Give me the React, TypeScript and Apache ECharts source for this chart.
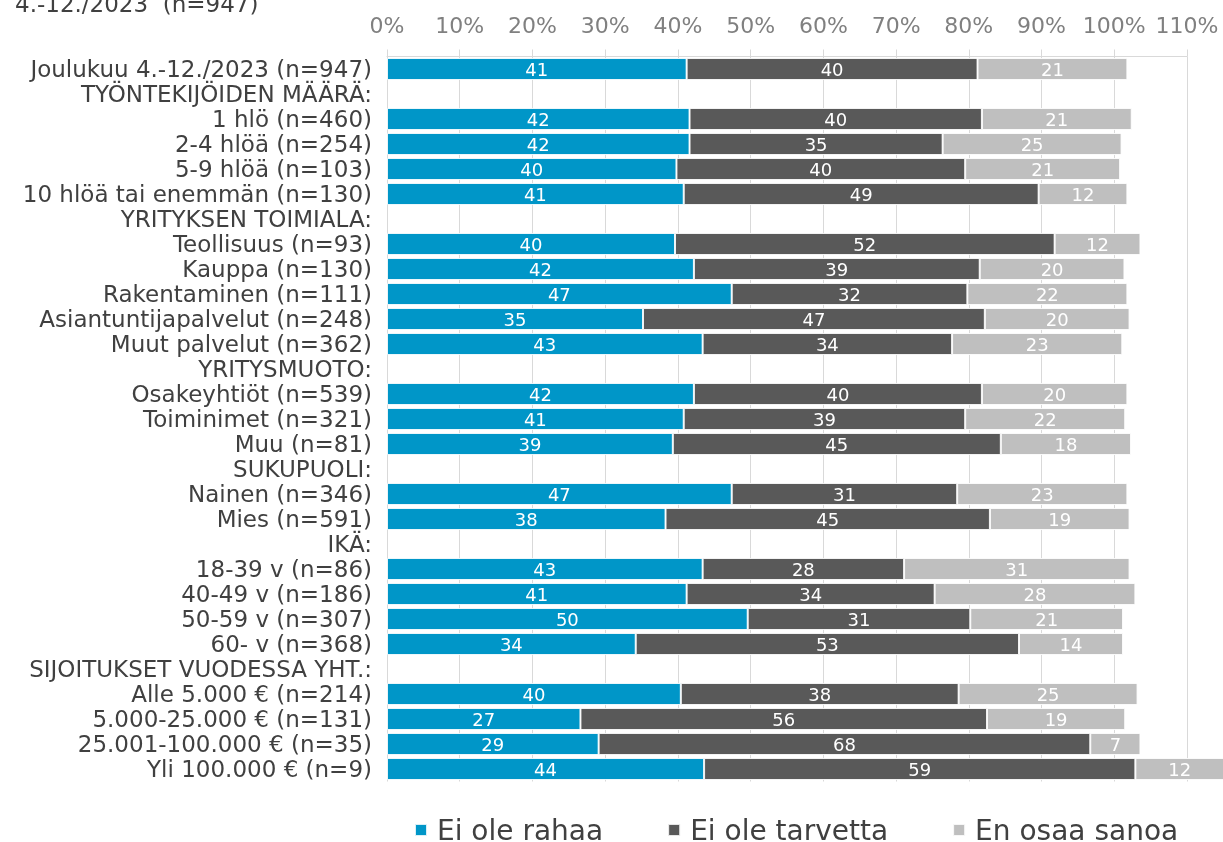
import React, { useEffect, useRef } from "react";
import * as echarts from "echarts";

const categories = [
  "Joulukuu 4.-12./2023 (n=947)",
  "TYÖNTEKIJÖIDEN MÄÄRÄ:",
  "1 hlö (n=460)",
  "2-4 hlöä (n=254)",
  "5-9 hlöä (n=103)",
  "10 hlöä tai enemmän (n=130)",
  "YRITYKSEN TOIMIALA:",
  "Teollisuus (n=93)",
  "Kauppa (n=130)",
  "Rakentaminen (n=111)",
  "Asiantuntijapalvelut (n=248)",
  "Muut palvelut (n=362)",
  "YRITYSMUOTO:",
  "Osakeyhtiöt (n=539)",
  "Toiminimet (n=321)",
  "Muu (n=81)",
  "SUKUPUOLI:",
  "Nainen (n=346)",
  "Mies (n=591)",
  "IKÄ:",
  "18-39 v (n=86)",
  "40-49 v (n=186)",
  "50-59 v (n=307)",
  "60- v (n=368)",
  "SIJOITUKSET VUODESSA YHT.:",
  "Alle 5.000 € (n=214)",
  "5.000-25.000 € (n=131)",
  "25.001-100.000 € (n=35)",
  "Yli 100.000 € (n=9)",
];

const eiOleRahaa = [
  41.2, null, 41.6, 41.6, 39.8, 40.8, null, 39.6, 42.2, 47.4, 35.2, 43.4, null,
  42.2, 40.8, 39.3, null, 47.4, 38.3, null, 43.4, 41.2, 49.6, 34.2, null, 40.4,
  26.6, 29.1, 43.6,
];
const eiOleTarvetta = [
  40.0, null, 40.2, 34.8, 39.7, 48.8, null, 52.2, 39.3, 32.4, 47.0, 34.3, null,
  39.6, 38.7, 45.1, null, 31.0, 44.6, null, 27.7, 34.1, 30.6, 52.7, null, 38.2,
  55.9, 67.6, 59.3,
];
const enOsaaSanoa = [
  20.6, null, 20.6, 24.6, 21.3, 12.2, null, 11.8, 19.9, 22.0, 19.9, 23.4, null,
  20.0, 22.0, 17.9, null, 23.4, 19.2, null, 31.0, 27.6, 21.0, 14.3, null, 24.6,
  19.0, 6.9, 12.2,
];

const seriesNames = ["Ei ole rahaa", "Ei ole tarvetta", "En osaa sanoa"];
const seriesColors = ["#0096C8", "#595959", "#BFBFBF"];
const titleText = "4.-12./2023  (n=947)";

const FONT = "'DejaVu Sans', Verdana, sans-serif";

export default function App() {
  const ref = useRef<HTMLDivElement>(null);
  useEffect(() => {
    if (!ref.current) return;
    const chart = echarts.init(ref.current, null, { renderer: "svg" });
    const dataSets = [eiOleRahaa, eiOleTarvetta, enOsaaSanoa];
    chart.setOption({
      animation: false,
      textStyle: { fontFamily: FONT },
      graphic: [
        {
          type: "text",
          x: 15,
          y: 4,
          style: {
            text: titleText,
            fontSize: 23,
            fontFamily: FONT,
            fill: "#404040",
            verticalAlign: "middle",
          },
        },
      ],
      legend: {
        data: seriesNames,
        left: 414,
        top: 816,
        padding: 0,
        itemWidth: 12,
        itemHeight: 12,
        itemGap: 64,
        icon: "rect",
        textStyle: {
          fontSize: 28,
          lineHeight: 24,
          color: "#404040",
          fontFamily: FONT,
          padding: [0, 0, 0, 5],
        },
      },
      grid: {
        left: 387,
        right: 36,
        top: 56.5,
        bottom: 60.5,
        containLabel: false,
      },
      xAxis: {
        type: "value",
        position: "top",
        min: 0,
        max: 110,
        interval: 10,
        axisLine: { show: true, lineStyle: { color: "#D9D9D9" } },
        axisTick: { show: true, length: 7, lineStyle: { color: "#D9D9D9" } },
        splitLine: { show: true, lineStyle: { color: "#D9D9D9" } },
        axisLabel: {
          formatter: "{value}%",
          fontSize: 22,
          color: "#808080",
          margin: 20,
          fontFamily: FONT,
        },
      },
      yAxis: {
        type: "category",
        inverse: true,
        data: categories,
        axisLine: { show: false },
        axisTick: { show: false },
        splitLine: { show: false },
        axisLabel: {
          fontSize: 23,
          color: "#404040",
          margin: 15,
          fontFamily: FONT,
          interval: 0,
        },
      },
      series: seriesNames.map((name, i) => ({
        name,
        type: "bar",
        stack: "total",
        barWidth: 22,
        clip: false,
        data: dataSets[i],
        itemStyle: {
          color: seriesColors[i],
          borderColor: "rgba(255,255,255,0.85)",
          borderWidth: 1,
        },
        label: {
          show: true,
          position: "inside",
          color: "#FFFFFF",
          fontSize: 18,
          fontFamily: FONT,
          formatter: (p: any) =>
            p.value == null ? "" : String(Math.round(p.value)),
        },
      })),
    });
    return () => chart.dispose();
  }, []);
  return (
    <div
      ref={ref}
      style={{ position: "fixed", left: 0, top: 0, width: 1223, height: 842 }}
    />
  );
}
